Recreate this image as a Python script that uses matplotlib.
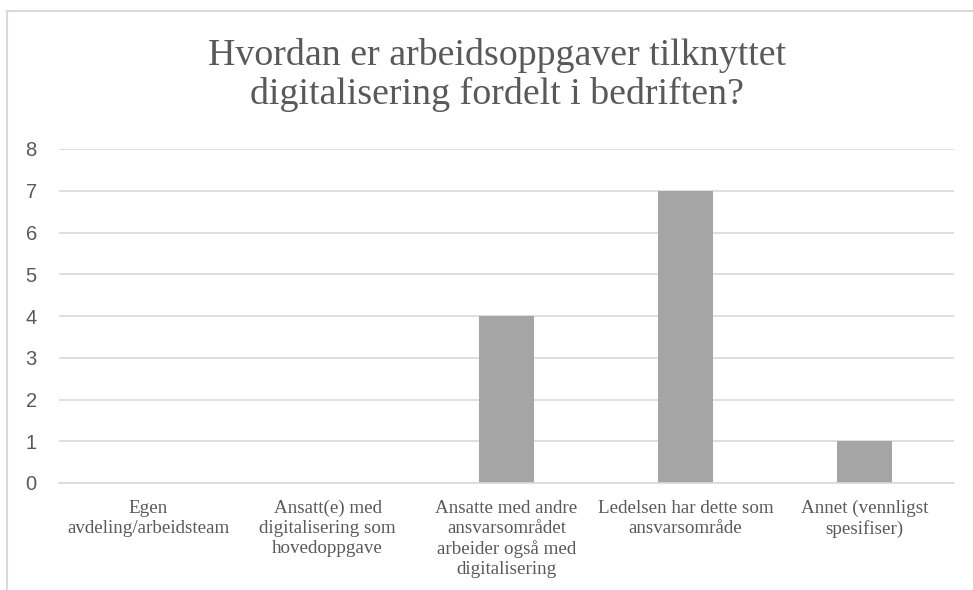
import matplotlib.pyplot as plt
from matplotlib.lines import Line2D

categories = [
    "Egen\navdeling/arbeidsteam",
    "Ansatt(e) med\ndigitalisering som\nhovedoppgave",
    "Ansatte med andre\nansvarsområdet\narbeider også med\ndigitalisering",
    "Ledelsen har dette som\nansvarsområde",
    "Annet (vennligst\nspesifiser)",
]
counts = [0, 0, 4, 7, 1]
y_ticks = [0, 1, 2, 3, 4, 5, 6, 7, 8]

title_lines = ["Hvordan er arbeidsoppgaver tilknyttet",
               "digitalisering fordelt i bedriften?"]

TEXT = "#595959"
GRID = "#d9d9d9"
BAR = "#a5a5a5"

fig = plt.figure(figsize=(9.73, 5.9), dpi=100)
ax = fig.add_axes([59 / 973, 1 - 483 / 590, (954 - 59) / 973, (483 - 149) / 590])

x = range(len(categories))
ax.bar(x, counts, width=0.31, color=BAR, zorder=2)

ax.set_xlim(-0.5, len(categories) - 0.5)
ax.set_ylim(0, 8)
ax.set_yticks(y_ticks)
ax.set_xticks(list(x))
ax.set_xticklabels(categories, family="Liberation Serif", fontsize=13.7,
                   color=TEXT, linespacing=1.24, va="top")
for lbl in ax.get_yticklabels():
    lbl.set_family("Liberation Sans")
    lbl.set_fontsize(14.5)
    lbl.set_color(TEXT)
ax.tick_params(axis="y", length=0, pad=16)
ax.tick_params(axis="x", length=0, pad=12)
ax.grid(axis="y", color=GRID, linewidth=1.2, zorder=0)
for side in ["top", "right", "left"]:
    ax.spines[side].set_visible(False)
ax.spines["bottom"].set_color(GRID)
ax.spines["bottom"].set_linewidth(1.2)
ax.spines["bottom"].set_zorder(3)

# two-line title, placed by baseline
for line, base in zip(title_lines, [65, 104]):
    fig.text(497 / 973, 1 - base / 590, line, ha="center", va="baseline",
             family="Liberation Serif", fontsize=27.3, color=TEXT)

# chart area frame
fig.add_artist(Line2D([7 / 973, 7 / 973], [0, 1 - 11 / 590],
                      transform=fig.transFigure, color=GRID, linewidth=1.5))
fig.add_artist(Line2D([7 / 973, 1], [1 - 11 / 590, 1 - 11 / 590],
                      transform=fig.transFigure, color=GRID, linewidth=1.5))

fig.savefig("out.png", dpi=100, facecolor="white")
